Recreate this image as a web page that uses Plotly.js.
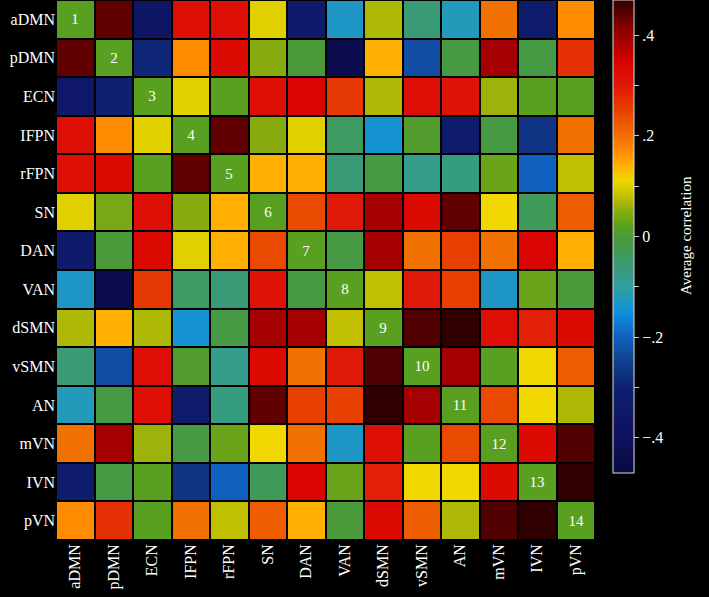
<!DOCTYPE html>
<html>
<head>
<meta charset="utf-8">
<script src="https://cdn.plot.ly/plotly-3.0.1.min.js"></script>
<style>html,body{margin:0;padding:0;background:#000;}</style>
</head>
<body>
<div id="chart" style="width:709px;height:597px;"></div>
<script>
const networks = ["aDMN","pDMN","ECN","IFPN","rFPN","SN","DAN","VAN","dSMN","vSMN","AN","mVN","IVN","pVN"];
const diagLabels = ["1","2","3","4","5","6","7","8","9","10","11","12","13","14"];
const DIAG = 0.02;
const row_aDMN = [DIAG, 0.44,-0.36, 0.32, 0.32, 0.10,-0.34,-0.13, 0.07,-0.06,-0.12, 0.20,-0.33, 0.17];
const row_pDMN = [0.44, DIAG,-0.29, 0.17, 0.33, 0.05, 0.00,-0.44, 0.14,-0.23,-0.01, 0.39,-0.01, 0.27];
const row_ECN  = [-0.35,-0.30, DIAG, 0.10, 0.02, 0.32, 0.34, 0.26, 0.07, 0.32, 0.31, 0.06, 0.02, 0.02];
const row_IFPN = [0.32, 0.17, 0.10, DIAG, 0.44, 0.05, 0.10,-0.04,-0.14, 0.01,-0.33,-0.01,-0.27, 0.20];
const row_rFPN = [0.32, 0.33, 0.02, 0.44, DIAG, 0.14, 0.14,-0.06,-0.01,-0.08,-0.07, 0.03,-0.20, 0.08];
const row_SN   = [0.10, 0.04, 0.32, 0.05, 0.14, DIAG, 0.24, 0.30, 0.39, 0.33, 0.44, 0.11,-0.03, 0.22];
const row_DAN  = [-0.34, 0.00, 0.33, 0.10, 0.14, 0.24, DIAG,-0.01, 0.39, 0.20, 0.25, 0.20, 0.34, 0.14];
const row_VAN  = [-0.13,-0.44, 0.26,-0.04,-0.06, 0.31,-0.01, DIAG, 0.08, 0.30, 0.25,-0.13, 0.03, 0.00];
const row_dSMN = [0.07, 0.14, 0.07,-0.14,-0.01, 0.39, 0.39, 0.08, DIAG, 0.45, 0.47, 0.32, 0.29, 0.33];
const row_vSMN = [-0.06,-0.23, 0.32, 0.01,-0.08, 0.33, 0.20, 0.30, 0.45, DIAG, 0.39, 0.02, 0.11, 0.22];
const row_AN   = [-0.12,-0.01, 0.32,-0.33,-0.07, 0.44, 0.25, 0.25, 0.47, 0.39, DIAG, 0.24, 0.11, 0.07];
const row_mVN  = [0.20, 0.39, 0.06,-0.01, 0.03, 0.11, 0.20,-0.13, 0.32, 0.02, 0.24, DIAG, 0.33, 0.45];
const row_IVN  = [-0.33,-0.01, 0.02,-0.27,-0.20,-0.03, 0.34, 0.03, 0.29, 0.11, 0.11, 0.33, DIAG, 0.47];
const row_pVN  = [0.17, 0.27, 0.02, 0.20, 0.08, 0.22, 0.14, 0.00, 0.33, 0.22, 0.07, 0.45, 0.47, DIAG];
const zRows = [row_aDMN,row_pDMN,row_ECN,row_IFPN,row_rFPN,row_SN,row_DAN,row_VAN,row_dSMN,row_vSMN,row_AN,row_mVN,row_IVN,row_pVN];

const cbTickVals = [-0.4,-0.3,-0.2,-0.1,0,0.1,0.2,0.3,0.4];
const cbTickText = ["\u2212.4","","\u2212.2","","0","",".2","",".4"];
const cbTitle = "Average correlation";

const ZMIN = -0.47, ZMAX = 0.47;
const anchors = [
  [-0.47,"#0a0a40"],[-0.40,"#0e1060"],[-0.30,"#102070"],[-0.25,"#104090"],
  [-0.20,"#1060c0"],[-0.15,"#1090e0"],[-0.10,"#30a0a0"],[-0.05,"#3a9a6a"],
  [0.00,"#4a9a3a"],[0.02,"#5aa020"],[0.05,"#88ac10"],[0.08,"#c0c000"],
  [0.11,"#f0d800"],[0.14,"#ffb000"],[0.17,"#ff8c00"],[0.20,"#f07000"],
  [0.25,"#e84000"],[0.30,"#e01808"],[0.35,"#d80000"],[0.38,"#b00000"],
  [0.42,"#800000"],[0.47,"#300000"]
];
const colorscale = anchors.map(a => [(a[0]-ZMIN)/(ZMAX-ZMIN), a[1]]);

const text = zRows.map((r,i) => r.map((v,j) => i===j ? diagLabels[i] : ""));

const font = "Liberation Serif, Times New Roman, serif";

const trace = {
  type: "heatmap",
  x: networks, y: networks, z: zRows,
  text: text, texttemplate: "%{text}",
  textfont: {family: font, size: 15, color: "#ffffff"},
  zmin: ZMIN, zmax: ZMAX, colorscale: colorscale,
  xgap: 2, ygap: 2, hoverinfo: "skip",
  colorbar: {
    x: (613-56)/539, xanchor: "left", xpad: 0,
    y: 1, yanchor: "top", ypad: 0, len: 473/540, lenmode: "fraction",
    thickness: 21, outlinecolor: "#dddddd", outlinewidth: 1,
    tickvals: cbTickVals, ticktext: cbTickText,
    ticks: "outside", ticklen: 5, tickcolor: "#cccccc",
    tickfont: {family: font, size: 16, color: "#ffffff"}
  }
};

const layout = {
  width: 709, height: 597,
  paper_bgcolor: "#000000", plot_bgcolor: "#000000",
  margin: {l: 56, r: 114, t: 0, b: 57},
  xaxis: {type: "category", tickangle: -90, tickfont: {family: font, size: 16, color: "#ffffff"},
          showgrid: false, zeroline: false, ticks: "", showline: false},
  yaxis: {type: "category", autorange: "reversed", tickfont: {family: font, size: 16, color: "#ffffff"},
          showgrid: false, zeroline: false, ticks: "", showline: false},
  font: {family: font, color: "#ffffff"},
  annotations: [{
    text: cbTitle, xref: "paper", yref: "paper",
    x: (686-56)/539, y: (540-236)/540, xanchor: "center", yanchor: "middle",
    textangle: -90, showarrow: false,
    font: {family: font, size: 15, color: "#ffffff"}
  }]
};

Plotly.newPlot("chart", [trace], layout, {displayModeBar: false, staticPlot: true});
</script>
</body>
</html>
